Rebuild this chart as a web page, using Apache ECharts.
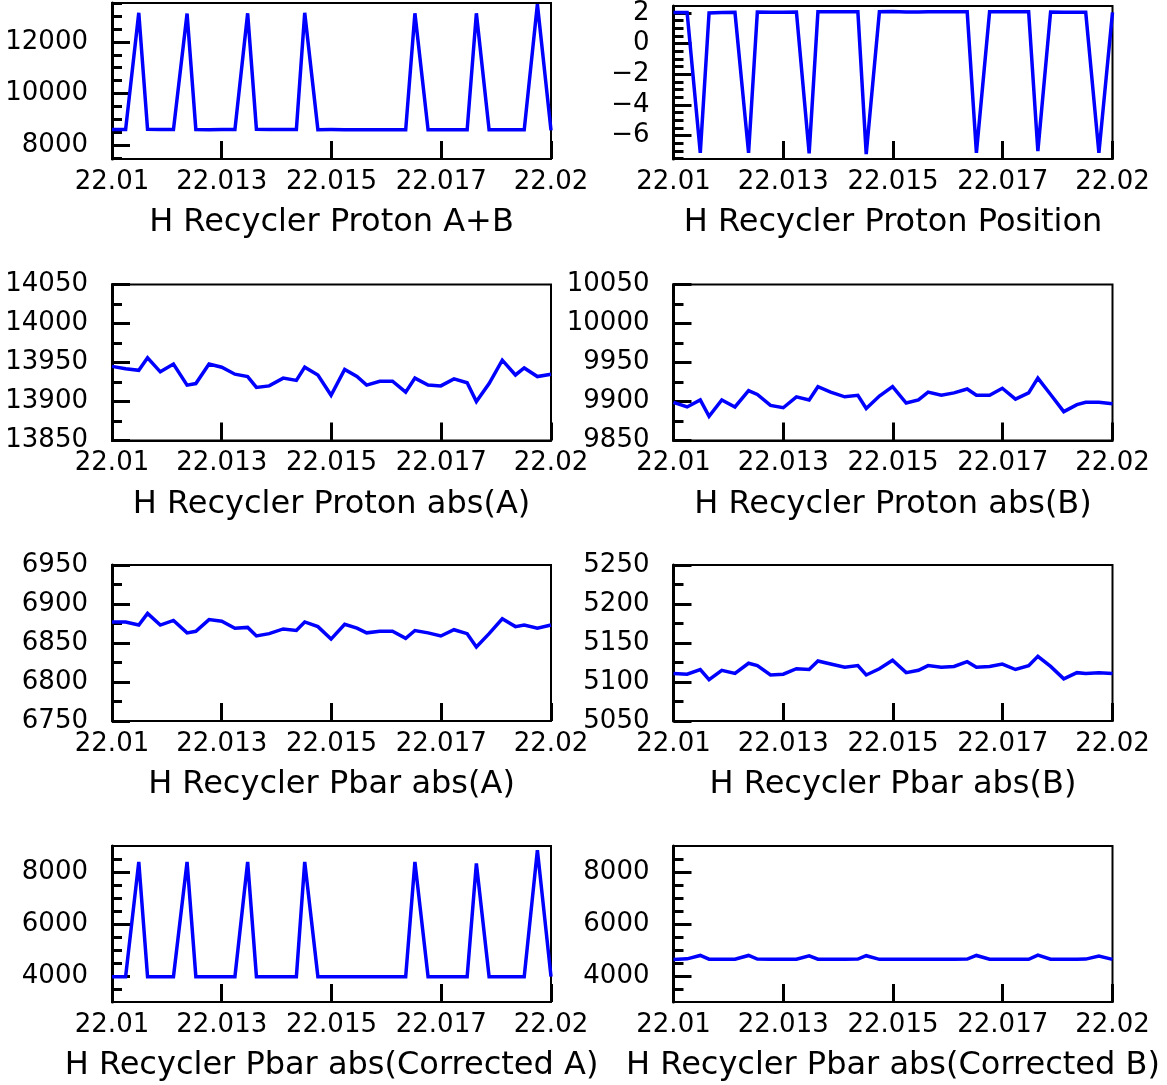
<!DOCTYPE html>
<html><head><meta charset="utf-8">
<script src="https://cdn.jsdelivr.net/npm/echarts@6/dist/echarts.min.js"></script>
<style>html,body{margin:0;padding:0;background:#fff}#c{width:1167px;height:1085px}</style>
</head><body><div id="c"></div>
<script>
// ---- data ----
const times = [22.01000, 22.01031, 22.01061, 22.01081, 22.01110, 22.01140, 22.01171, 22.01191, 22.01221, 22.01250,
  22.01280, 22.01309, 22.01329, 22.01358, 22.01390, 22.01420, 22.01439, 22.01469, 22.01499, 22.01530,
  22.01558, 22.01580, 22.01610, 22.01639, 22.01669, 22.01690, 22.01720, 22.01749, 22.01779, 22.01809,
  22.01830, 22.01859, 22.01889, 22.01919, 22.01939, 22.01969, 22.02000];

const protonAB = [8600, 8600, 13130, 8610, 8605, 8600, 13100, 8600, 8595, 8600,
  8600, 13110, 8610, 8605, 8600, 8605, 13130, 8595, 8600, 8595,
  8590, 8595, 8590, 8590, 8590, 13110, 8590, 8590, 8590, 8590,
  13110, 8590, 8590, 8590, 8590, 13460, 8570];

const protonPos = [2.04, 2.04, -7.12, 2.00, 2.03, 2.04, -7.12, 2.07, 2.05, 2.05,
  2.07, -7.15, 2.08, 2.08, 2.08, 2.08, -7.20, 2.08, 2.10, 2.06,
  2.06, 2.08, 2.08, 2.08, 2.08, -7.12, 2.08, 2.08, 2.08, 2.08,
  -7.00, 2.07, 2.05, 2.05, 2.05, -7.12, 2.04];

const protonAbsA = [13945, 13942, 13940, 13956, 13938, 13948, 13921, 13923, 13948, 13944,
  13935, 13932, 13918, 13920, 13930, 13927, 13944, 13934, 13908, 13941,
  13932, 13921, 13926, 13926, 13912, 13930, 13921, 13920, 13929, 13924,
  13900, 13923, 13953, 13934, 13943, 13932, 13935];

const protonAbsB = [9899, 9893, 9902, 9881, 9902, 9893, 9914, 9909, 9895, 9892,
  9906, 9902, 9919, 9912, 9906, 9908, 9891, 9907, 9919, 9898,
  9902, 9912, 9908, 9911, 9916, 9908, 9908, 9917, 9903, 9911,
  9930, 9909, 9887, 9896, 9899, 9899, 9897];

const pbarAbsA = [6877, 6877, 6873, 6888, 6873, 6879, 6863, 6865, 6880, 6878,
  6869, 6870, 6859, 6862, 6868, 6866, 6877, 6871, 6855, 6874,
  6869, 6863, 6865, 6865, 6856, 6866, 6863, 6859, 6867, 6862,
  6845, 6862, 6881, 6871, 6873, 6869, 6873];

const pbarAbsB = [5111, 5110, 5116, 5103, 5115, 5111, 5124, 5121, 5109, 5110,
  5117, 5116, 5127, 5123, 5119, 5121, 5109, 5117, 5128, 5112,
  5115, 5121, 5119, 5120, 5126, 5119, 5120, 5123, 5116, 5121,
  5133, 5120, 5104, 5112, 5111, 5112, 5111];

const pbarCorrA = [3975, 3975, 8390, 3975, 3975, 3975, 8390, 3975, 3975, 3975,
  3975, 8390, 3975, 3975, 3975, 3975, 8390, 3975, 3975, 3975,
  3975, 3975, 3975, 3975, 3975, 8390, 3975, 3975, 3975, 3975,
  8330, 3975, 3975, 3975, 3975, 8840, 3975];

const pbarCorrB = [4630, 4660, 4790, 4645, 4645, 4645, 4790, 4650, 4645, 4645,
  4645, 4775, 4645, 4645, 4640, 4650, 4780, 4640, 4645, 4640,
  4640, 4645, 4640, 4640, 4650, 4790, 4645, 4645, 4640, 4645,
  4800, 4645, 4645, 4645, 4650, 4770, 4640];

const titles = ['H Recycler Proton A+B', 'H Recycler Proton Position',
  'H Recycler Proton abs(A)', 'H Recycler Proton abs(B)',
  'H Recycler Pbar abs(A)', 'H Recycler Pbar abs(B)',
  'H Recycler Pbar abs(Corrected A)', 'H Recycler Pbar abs(Corrected B)'];

const xTickValues = [22.01, 22.0125, 22.015, 22.0175, 22.02];
const xTickLabels = ['22.01', '22.013', '22.015', '22.017', '22.02'];

const yMajor1 = [8000, 10000, 12000];
const yMinor1 = [7500, 8500, 9000, 9500, 10500, 11000, 11500, 12500, 13000, 13500];
const yMajor2 = [2, 0, -2, -4, -6];
const yMinor2 = [-7.5, -7, -6.5, -5.5, -5, -4.5, -3.5, -3, -2.5, -1.5, -1, -0.5, 0.5, 1, 1.5];
const yMajor3 = [13850, 13900, 13950, 14000, 14050];
const yMinor3 = [13875, 13925, 13975, 14025];
const yMajor4 = [9850, 9900, 9950, 10000, 10050];
const yMinor4 = [9875, 9925, 9975, 10025];
const yMajor5 = [6750, 6800, 6850, 6900, 6950];
const yMinor5 = [6775, 6825, 6875, 6925];
const yMajor6 = [5050, 5100, 5150, 5200, 5250];
const yMinor6 = [5075, 5125, 5175, 5225];
const yMajor7 = [4000, 6000, 8000];
const yMinor7 = [3500, 4500, 5000, 5500, 6500, 7000, 7500, 8500];

const yRanges = [[7460, 13510], [-7.52, 2.46], [13850, 14050], [9850, 10050],
  [6750, 6950], [5050, 5250], [3000, 9000], [3000, 9000]];

const panelData = [protonAB, protonPos, protonAbsA, protonAbsB, pbarAbsA, pbarAbsB, pbarCorrA, pbarCorrB];
const panelMajor = [yMajor1, yMajor2, yMajor3, yMajor4, yMajor5, yMajor6, yMajor7, yMajor7];
const panelMinor = [yMinor1, yMinor2, yMinor3, yMinor4, yMinor5, yMinor6, yMinor7, yMinor7];

// ---- layout ----
const colLeft = [112, 673.5];
const rowTop = [3, 284.5, 565, 846];
const gW = 439, gH = 156;
const FONT = 'DejaVu Sans';

const grids = [], xAxes = [], yAxes = [], series = [];
for (let i = 0; i < 8; i++) {
  const r = Math.floor(i / 2), c = i % 2;
  grids.push({left: colLeft[c], top: rowTop[r], width: gW, height: gH,
    show: true, borderColor: '#000', borderWidth: 2, backgroundColor: 'transparent', containLabel: false});
  xAxes.push({
    gridIndex: i, type: 'value', min: 22.01, max: 22.02,
    axisLine: {show: true, onZero: false, lineStyle: {color: '#000', width: 2}},
    axisTick: {show: true, inside: true, length: 18, customValues: xTickValues, lineStyle: {color: '#000', width: 3}},
    axisLabel: {show: true, customValues: xTickValues, margin: 10, color: '#000', fontSize: 26, fontFamily: FONT,
      hideOverlap: false,
      formatter: v => { const k = xTickValues.findIndex(t => Math.abs(t - v) < 1e-7); return k >= 0 ? xTickLabels[k] : ''; }},
    splitLine: {show: false},
    name: titles[i], nameLocation: 'middle', nameGap: 48,
    nameTextStyle: {fontSize: 32, color: '#000', fontFamily: FONT}
  });
  const [mn, mx] = yRanges[i];
  yAxes.push({
    gridIndex: i, type: 'value', min: mn, max: mx, position: 'left',
    axisLine: {show: true, onZero: false, lineStyle: {color: '#000', width: 3}},
    axisTick: {show: true, inside: true, length: 18, customValues: panelMajor[i], lineStyle: {color: '#000', width: 3}},
    axisLabel: {show: true, customValues: panelMajor[i], margin: 24, color: '#000', fontSize: 26, fontFamily: FONT,
      hideOverlap: false, formatter: v => String(v).replace('-', '\u2212')},
    splitLine: {show: false}
  });
  yAxes.push({
    gridIndex: i, type: 'value', min: mn, max: mx, position: 'left',
    axisLine: {show: false},
    axisTick: {show: true, inside: true, length: 10, customValues: panelMinor[i], lineStyle: {color: '#000', width: 3}},
    axisLabel: {show: false},
    splitLine: {show: false}
  });
  series.push({
    type: 'line', xAxisIndex: i, yAxisIndex: 2 * i, showSymbol: false, symbol: 'none',
    lineStyle: {color: '#0000ff', width: 3.5, join: 'miter', miterLimit: 4},
    data: times.map((t, k) => [t, panelData[i][k]]),
    animation: false, silent: true
  });
}

const chart = echarts.init(document.getElementById('c'), null, {renderer: 'canvas'});
chart.setOption({animation: false, backgroundColor: '#fff', grid: grids, xAxis: xAxes, yAxis: yAxes, series: series});
</script></body></html>
